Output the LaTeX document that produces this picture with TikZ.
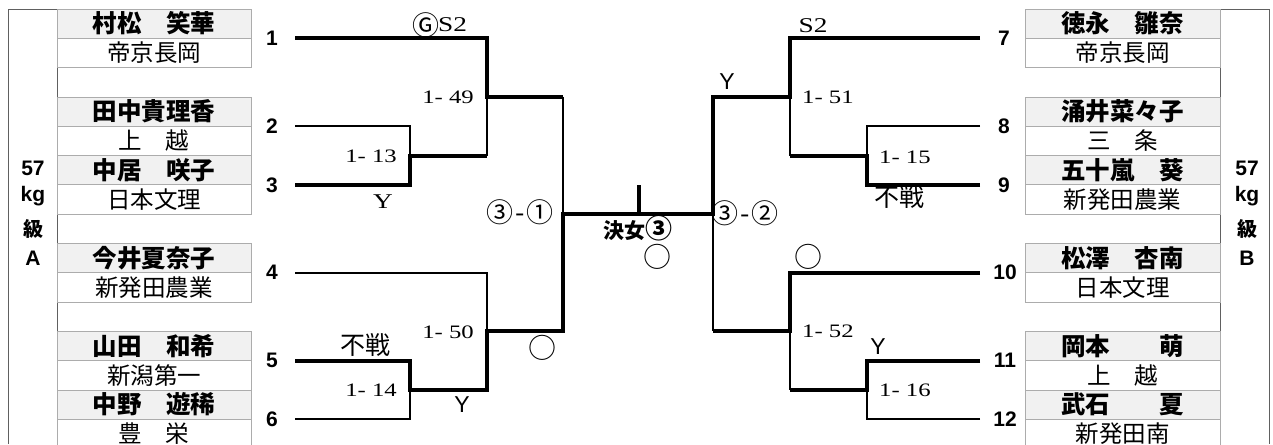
\documentclass[tikz,border=0pt]{standalone}
\usepackage{fontspec}
\setmainfont{Liberation Serif}
\newfontfamily\jp{Noto Sans CJK JP}
\newfontfamily\numf{Liberation Sans}
\newfontfamily\matchf{Liberation Serif}[FakeStretch=1.3]
\begin{document}
\begin{tikzpicture}[x=1pt,y=-1pt,
  namecell/.style={draw=gray!65, line width=0.8pt, fill=gray!11, minimum width=194pt,
    minimum height=29.3pt, inner sep=0pt, outer sep=0pt, anchor=north west,
    font=\jp\bfseries\fontsize{24.5}{24.5}\selectfont},
  schoolcell/.style={namecell, fill=white, font=\jp\fontsize{23.5}{23.5}\selectfont},
  frameline/.style={draw=gray!75!black, line width=0.9pt},
  win/.style={draw=black, line width=4pt, line join=miter},
  lose/.style={draw=black, line width=1.8pt},
  pnum/.style={font=\numf\bfseries\fontsize{21}{21}\selectfont, inner sep=0pt},
  mlabel/.style={font=\matchf\fontsize{19}{19}\selectfont, inner sep=0pt},
  serifmark/.style={font=\matchf\fontsize{21}{21}\selectfont, inner sep=0pt},
  sansmark/.style={font=\numf\fontsize{23}{23}\selectfont, inner sep=0pt},
  jpmark/.style={font=\jp\fontsize{25}{25}\selectfont, inner sep=0pt},
  circmark/.style={font=\jp\fontsize{28}{28}\selectfont, inner sep=0pt},
  sidelabel/.style={font=\numf\bfseries\fontsize{21}{21}\selectfont, inner sep=0pt},
  sidejp/.style={font=\jp\bfseries\fontsize{20}{20}\selectfont, inner sep=0pt}
]
\useasboundingbox (0,0) rectangle (1273,444);
\fill[white] (0,0) rectangle (1273,444);

% ---------- outer frames ----------
\draw[frameline] (8,444) -- (8,9) -- (57,9) -- (57,444);
\draw[frameline] (1220,444) -- (1220,9) -- (1269,9) -- (1269,444);
\node[sidelabel] (la57) at (33,168) {57};
\node[sidelabel] (lakg) at (33,196) {kg};
\node[sidejp]    (laky) at (33,229) {級};
\node[sidelabel] (laA)  at (33,258) {A};
\node[sidelabel] (lb57) at (1247,168) {57};
\node[sidelabel] (lbkg) at (1247,196) {kg};
\node[sidejp]    (lbky) at (1247,229) {級};
\node[sidelabel] (lbB)  at (1247,258) {B};

% ---------- left entries ----------
\node[namecell]   (n1) at (57,9)     {村松　笑華};
\node[schoolcell] (s1) at (57,38.3)  {帝京長岡};
\node[namecell]   (n2) at (57,96.9)  {田中貴理香};
\node[schoolcell] (s2) at (57,126.2) {上　越};
\node[namecell]   (n3) at (57,155.5) {中居　咲子};
\node[schoolcell] (s3) at (57,184.8) {日本文理};
\node[namecell]   (n4) at (57,243.4) {今井夏奈子};
\node[schoolcell] (s4) at (57,272.7) {新発田農業};
\node[namecell]   (n5) at (57,331.3) {山田　和希};
\node[schoolcell] (s5) at (57,360.6) {新潟第一};
\node[namecell]   (n6) at (57,389.9) {中野　遊稀};
\node[schoolcell] (s6) at (57,419.2) {豊　栄};

% ---------- right entries ----------
\begin{scope}[namecell/.append style={minimum width=195pt}]
\node[namecell]   (n7)  at (1025,9)     {徳永　雛奈};
\node[schoolcell] (s7)  at (1025,38.3)  {帝京長岡};
\node[namecell]   (n8)  at (1025,96.9)  {涌井菜々子};
\node[schoolcell] (s8)  at (1025,126.2) {三　条};
\node[namecell]   (n9)  at (1025,155.5) {五十嵐　葵};
\node[schoolcell] (s9)  at (1025,184.8) {新発田農業};
\node[namecell]   (n10) at (1025,243.4) {松澤　杏南};
\node[schoolcell] (s10) at (1025,272.7) {日本文理};
\node[namecell]   (n11) at (1025,331.3) {岡本　　萌};
\node[schoolcell] (s11) at (1025,360.6) {上　越};
\node[namecell]   (n12) at (1025,389.9) {武石　　夏};
\node[schoolcell] (s12) at (1025,419.2) {新発田南};
\end{scope}

% ---------- player numbers ----------
\node[pnum] (k1) at (272,38.3)  {1};
\node[pnum] (k2) at (272,126.2) {2};
\node[pnum] (k3) at (272,184.8) {3};
\node[pnum] (k4) at (272,272.7) {4};
\node[pnum] (k5) at (272,360.6) {5};
\node[pnum] (k6) at (272,419.2) {6};
\node[pnum] (k7)  at (1004,38.3)  {7};
\node[pnum] (k8)  at (1004,126.2) {8};
\node[pnum] (k9)  at (1004,184.8) {9};
\node[pnum] (k10) at (1005,272.7) {10};
\node[pnum] (k11) at (1005,360.6) {11};
\node[pnum] (k12) at (1005,419.2) {12};

% ---------- bracket coordinates ----------
\coordinate (a1) at (295,38.3);
\coordinate (a2) at (295,126.2);
\coordinate (a3) at (295,184.8);
\coordinate (a4) at (295,272.7);
\coordinate (a5) at (295,360.6);
\coordinate (a6) at (295,419.2);
\coordinate (b7)  at (980,38.3);
\coordinate (b8)  at (980,126.2);
\coordinate (b9)  at (980,184.8);
\coordinate (b10) at (980,272.7);
\coordinate (b11) at (980,360.6);
\coordinate (b12) at (980,419.2);
\coordinate (m13) at (410,155.5);
\coordinate (m49) at (487,96.9);
\coordinate (m14) at (410,389.9);
\coordinate (m50) at (487,331.3);
\coordinate (sf1) at (563,214.1);
\coordinate (fin) at (639,214.1);
\coordinate (tick) at (639,185);
\coordinate (sf2) at (713,214.1);
\coordinate (m51) at (790,96.9);
\coordinate (m15) at (867,155.5);
\coordinate (m52) at (790,331.3);
\coordinate (m16) at (867,389.9);

% ---------- left bracket ----------
\draw[lose] (m49 -| sf1) -- (sf1);
\draw[lose] (m49) -- (m13 -| m49);
\draw[lose] (a2) -| (m13);
\draw[lose] (a4) -| (m50);
\draw[lose] (a6) -| (m14);
\draw[win] (a1) -| (m49) -- (m49 -| sf1);
\draw[win] (a3) -| (m13) -- (m13 -| m49);
\draw[win] (a5) -| (m14) -- (m14 -| m50) -- (m50) -- (m50 -| sf1) -- (sf1) -- (fin);

% ---------- right bracket ----------
\draw[lose] (m51) -- (m15 -| m51);
\draw[lose] (b8) -| (m15);
\draw[lose] (sf2) -- (m52 -| sf2);
\draw[lose] (m52) -- (m16 -| m52);
\draw[lose] (b12) -| (m16);
\draw[win] (b7) -| (m51) -- (m51 -| sf2) -- (sf2) -- (fin);
\draw[win] (b9) -| (m15) -- (m15 -| m51);
\draw[win] (b10) -| (m52) -- (m52 -| sf2);
\draw[win] (b11) -| (m16) -- (m16 -| m52);
\draw[win] (fin) -- (tick);

% ---------- match labels ----------
\node[mlabel, anchor=east] (l49) at (474,97)  {1- 49};
\node[mlabel, anchor=east] (l13) at (397,156) {1- 13};
\node[mlabel, anchor=east] (l50) at (474,332) {1- 50};
\node[mlabel, anchor=east] (l14) at (397,390) {1- 14};
\node[mlabel, anchor=west] (l51) at (802,97)  {1- 51};
\node[mlabel, anchor=west] (l15) at (879,157) {1- 15};
\node[mlabel, anchor=west] (l52) at (802,331) {1- 52};
\node[mlabel, anchor=west] (l16) at (879,390) {1- 16};

% ---------- marks ----------
\node[inner sep=0pt, font=\jp\fontsize{27}{27}\selectfont] (g1) at (426,25) {Ⓖ};
\node[serifmark, anchor=west] (g2) at (438,25) {S2};
\node[serifmark] (y13) at (383,202) {Y};
\node[jpmark] (fs5) at (365,345) {不戦};
\node[sansmark] (y50) at (462,405) {Y};
\node[circmark] (o1) at (542,348) {○};
\node[inner sep=0pt, font=\jp\fontsize{27}{27}\selectfont] (sc1) at (520,212) {③\hspace{0.05em}-\hspace{0.05em}①};
\node[inner sep=0pt, font=\jp\bfseries\fontsize{21}{21}\selectfont] (ket) at (638,228) {決女{\fontsize{27}{27}\selectfont ③}};
\node[circmark] (o2) at (657,257) {○};
\node[inner sep=0pt, font=\jp\fontsize{27}{27}\selectfont] (sc2) at (745,213) {③\hspace{0.05em}-\hspace{0.05em}②};
\node[serifmark] (s2m) at (813,26) {S2};
\node[sansmark] (y51) at (727,82) {Y};
\node[jpmark] (fs9) at (899,197) {不戦};
\node[circmark] (o3) at (808,257) {○};
\node[sansmark] (y16) at (878,347) {Y};
\end{tikzpicture}
\end{document}
